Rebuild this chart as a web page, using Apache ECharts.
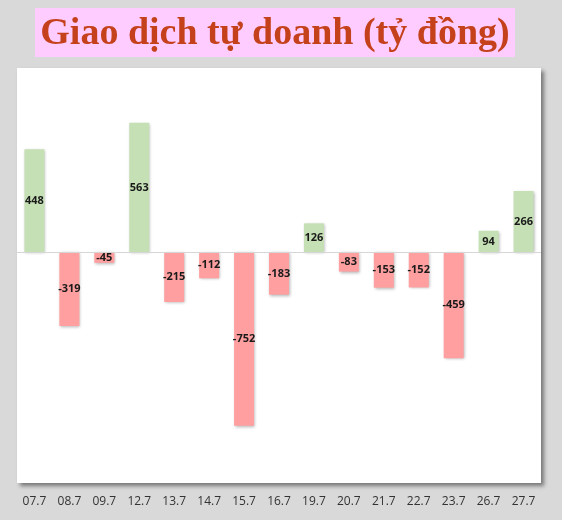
<!DOCTYPE html>
<html>
<head>
<meta charset="utf-8">
<script src="https://cdn.jsdelivr.net/npm/echarts@6/dist/echarts.min.js"></script>
<style>
    html, body { margin: 0; padding: 0; background: #d9d9d9; }
    #chart { width: 562px; height: 520px; }
</style>
</head>
<body>
<div id="chart"></div>
<script>
var titleText = 'Giao dịch tự doanh (tỷ đồng)';
var days = ['07.7', '08.7', '09.7', '12.7', '13.7', '14.7', '15.7', '16.7',
    '19.7', '20.7', '21.7', '22.7', '23.7', '26.7', '27.7'];
var values = [448, -319, -45, 563, -215, -112, -752, -183, 126, -83, -153, -152, -459, 94, 266];

var initChart = function () {
    var dom = document.getElementById('chart');
    var myEcharts = echarts.init(dom);

    var option = {
        backgroundColor: '#d9d9d9',
        animation: false,
        graphic: [
            {
                type: 'rect',
                shape: { x: 35, y: 8, width: 480, height: 49 },
                style: { fill: '#ffccff' }
            },
            {
                type: 'text',
                x: 275,
                y: 34,
                style: {
                    text: titleText,
                    align: 'center',
                    verticalAlign: 'middle',
                    fill: '#c4411c',
                    font: 'bold 38px "Liberation Serif", serif'
                }
            }
        ],
        grid: {
            show: true,
            left: 17,
            right: 21,
            top: 68,
            bottom: 37,
            backgroundColor: '#ffffff',
            borderWidth: 0,
            shadowColor: 'rgba(0,0,0,0.45)',
            shadowBlur: 4,
            shadowOffsetX: 3,
            shadowOffsetY: 3
        },
        xAxis: {
            type: 'category',
            data: days,
            axisLine: { show: false },
            axisTick: { show: false },
            axisLabel: {
                color: '#333',
                fontSize: 12,
                fontFamily: '"Open Sans", sans-serif',
                margin: 13
            }
        },
        yAxis: {
            type: 'value',
            min: -1000,
            max: 800,
            show: false,
            splitLine: { show: false }
        },
        series: [{
            type: 'bar',
            data: values,
            barWidth: 20,
            itemStyle: {
                color: function (p) {
                    return p.value >= 0 ? '#c5e0b4' : '#ff9f9f';
                },
                shadowColor: 'rgba(0,0,0,0.3)',
                shadowBlur: 3,
                shadowOffsetX: 1,
                shadowOffsetY: 1
            },
            label: {
                show: true,
                position: 'inside',
                color: '#1a1a1a',
                fontWeight: 'bold',
                fontSize: 11,
                fontFamily: '"Open Sans", sans-serif'
            },
            markLine: {
                silent: true,
                symbol: 'none',
                label: { show: false },
                lineStyle: { color: '#d6d6d6', width: 1, type: 'solid' },
                data: [{ yAxis: 0 }]
            }
        }]
    };
    myEcharts.setOption(option);
};
initChart();
</script>
</body>
</html>
